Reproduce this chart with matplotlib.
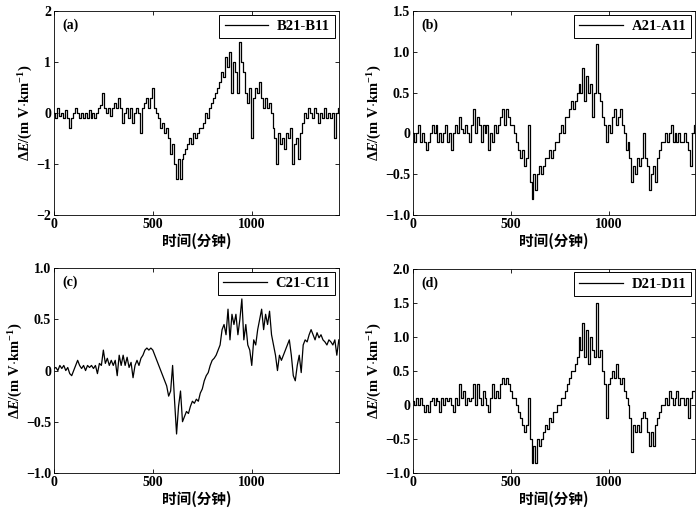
import numpy as np
import matplotlib.pyplot as plt

plt.rcParams['font.family'] = ['Liberation Serif', 'Noto Sans CJK SC']
plt.rcParams['font.weight'] = 'bold'
plt.rcParams['axes.labelweight'] = 'bold'
plt.rcParams['mathtext.fontset'] = 'custom'
plt.rcParams['mathtext.rm'] = 'Liberation Serif:bold'
plt.rcParams['mathtext.it'] = 'Liberation Serif:italic:bold'
plt.rcParams['mathtext.bf'] = 'Liberation Serif:bold'

# time in minutes, read every 10 minutes
minutes = np.arange(0, 1441, 10)

b21_b11 = [
    0.0, -0.1, 0.1, -0.05, 0.0, -0.1, 0.05, -0.1, -0.3, -0.1,
    0.0, 0.1, 0.0, -0.1, 0.0, -0.1, 0.0, -0.1, 0.05, -0.1,
    0.0, -0.1, 0.0, 0.1, 0.15, 0.4, 0.1, 0.0, 0.1, -0.05,
    0.1, 0.2, 0.1, 0.3, 0.1, -0.2, 0.0, 0.1, -0.1, 0.1,
    -0.2, 0.0, 0.1, 0.0, -0.4, 0.1, 0.2, 0.3, 0.1, 0.3,
    0.5, 0.1, 0.0, -0.1, -0.3, -0.2, -0.4, -0.3, -0.5, -0.8,
    -0.6, -1.0, -1.3, -0.9, -1.3, -0.9, -0.8, -0.7, -0.6, -0.5,
    -0.6, -0.4, -0.5, -0.4, -0.3, -0.3, -0.2, 0.0, -0.1, 0.1,
    0.2, 0.3, 0.4, 0.5, 0.6, 0.8, 0.7, 1.1, 0.9, 1.2,
    0.4, 1.0, 0.8, 0.4, 1.4, 1.0, 0.8, 0.4, 0.2, 0.5,
    -0.5, 0.3, 0.5, 0.4, 0.6, 0.3, 0.1, 0.3, 0.1, 0.2,
    0.0, -0.3, -0.5, -1.0, -0.4, -0.6, -0.5, -0.7, -0.4, -0.5,
    -0.3, -1.0, -0.6, -0.5, -0.9, -0.4, -0.2, 0.0, -0.1, 0.1,
    0.0, -0.1, 0.1, 0.0, -0.2, 0.0, -0.1, 0.1, -0.1, 0.0,
    -0.1, 0.0, -0.5, 0.0, 0.1,
]

a21_a11 = [
    0.0, -0.1, 0.0, 0.1, -0.1, 0.0, -0.1, -0.2, -0.1, 0.0,
    0.1, 0.0, 0.1, -0.1, 0.0, -0.1, 0.0, 0.1, -0.1, 0.0,
    -0.2, 0.0, 0.1, 0.0, 0.2, 0.05, 0.0, 0.1, 0.0, -0.1,
    0.1, 0.3, 0.0, 0.2, 0.1, -0.1, 0.1, 0.0, 0.1, -0.2,
    0.0, -0.1, 0.1, 0.0, 0.1, 0.2, 0.3, 0.1, 0.3, 0.2,
    0.1, 0.1, 0.0, -0.1, -0.2, -0.3, -0.2, -0.4, -0.3, 0.1,
    -0.6, -0.8, -0.5, -0.7, -0.5, -0.4, -0.5, -0.4, -0.3, -0.3,
    -0.2, -0.3, -0.2, -0.1, -0.1, 0.0, 0.1, 0.0, 0.2, 0.2,
    0.3, 0.4, 0.3, 0.4, 0.5, 0.6, 0.5, 0.8, 0.4, 0.7,
    0.5, 0.6, 0.2, 0.5, 1.1, 0.5, 0.4, 0.2, 0.1, -0.1,
    0.1, 0.0, 0.2, 0.3, 0.1, 0.2, 0.3, 0.1, 0.0, -0.2,
    -0.1, -0.3, -0.6, -0.4, -0.5, -0.3, -0.4, -0.3, 0.0, -0.3,
    -0.4, -0.7, -0.5, -0.4, -0.6, -0.3, -0.2, -0.1, -0.1, 0.0,
    -0.1, 0.0, 0.1, -0.1, 0.0, -0.1, 0.0, -0.1, -0.1, 0.0,
    -0.1, -0.2, -0.4, 0.0, 0.1,
]

c21_c11 = [
    0.02, 0.03, 0.0, 0.05, 0.02, 0.05, 0.0, 0.03, -0.03, -0.05,
    0.0, 0.05, 0.1, 0.05, 0.02, 0.05, 0.0, 0.05, 0.03, 0.05,
    0.02, 0.05, -0.03, 0.07, 0.05, 0.2, 0.07, 0.12, 0.05, 0.1,
    0.05, 0.1, -0.05, 0.15, 0.05, 0.15, 0.05, 0.13, 0.03, 0.08,
    -0.07, 0.05, 0.1, 0.05, 0.12, 0.15, 0.2, 0.22, 0.2, 0.22,
    0.2, 0.15, 0.1, 0.05, 0.0, -0.05, -0.1, -0.15, -0.25, -0.2,
    0.05, -0.3, -0.62, -0.35, -0.2, -0.5, -0.45, -0.4, -0.42, -0.35,
    -0.3, -0.32, -0.28, -0.3, -0.22, -0.18, -0.1, -0.05, -0.02, 0.05,
    0.1, 0.12, 0.15, 0.2, 0.25, 0.4, 0.45, 0.35, 0.6, 0.3,
    0.55, 0.45, 0.55, 0.35, 0.5, 0.7, 0.3, 0.45, 0.25, 0.2,
    0.05, 0.3, 0.25, 0.4, 0.5, 0.6, 0.4, 0.55, 0.45, 0.58,
    0.35, 0.25, 0.15, 0.0, 0.15, 0.1, 0.15, 0.2, 0.25, 0.3,
    0.15, -0.05, -0.1, 0.05, 0.15, -0.02, 0.25, 0.3, 0.28, 0.35,
    0.4, 0.35, 0.3, 0.37, 0.32, 0.35, 0.3, 0.28, 0.25, 0.3,
    0.28, 0.25, 0.3, 0.15, 0.3,
]

d21_d11 = [
    0.05, 0.0, 0.1, 0.0, 0.1, 0.0, -0.1, 0.0, -0.1, 0.05,
    0.1, 0.0, 0.1, 0.05, -0.1, 0.1, 0.0, 0.1, 0.05, 0.1,
    0.0, -0.1, 0.1, 0.0, 0.3, 0.1, 0.2, 0.0, 0.1, 0.05,
    0.1, 0.3, 0.0, 0.3, 0.1, 0.0, 0.2, 0.1, 0.0, -0.1,
    0.1, 0.3, 0.1, 0.2, 0.1, 0.3, 0.4, 0.3, 0.4, 0.3,
    0.2, 0.1, 0.1, 0.0, -0.1, -0.2, -0.3, -0.4, -0.3, 0.1,
    -0.5, -0.85, -0.6, -0.85, -0.5, -0.6, -0.5, -0.4, -0.3, -0.35,
    -0.2, -0.25, -0.1, -0.1, 0.0, 0.0, 0.1, 0.1, 0.2, 0.3,
    0.4, 0.5, 0.5, 0.6, 0.7, 1.0, 0.8, 1.2, 0.7, 1.1,
    0.6, 1.0, 0.8, 0.7, 1.5, 0.7, 0.8, 0.5, 0.3, -0.2,
    0.3, 0.4, 0.5, 0.4, 0.6, 0.4, 0.3, 0.4, 0.2, 0.1,
    0.0, -0.2, -0.7, -0.3, -0.4, -0.3, -0.4, -0.2, -0.1, -0.2,
    -0.4, -0.6, -0.4, -0.6, -0.3, -0.2, -0.1, 0.0, 0.0, 0.1,
    0.0, 0.2, 0.1, 0.0, 0.1, 0.2, 0.0, 0.1, 0.1, 0.0,
    0.1, -0.2, 0.1, 0.2, 0.2,
]

# tag, legend name, values, y range, y ticks, tick labels, draw style
panels = [
    ('(a)', 'B21-B11', b21_b11, (-2, 2), [-2, -1, 0, 1, 2],
     ['\u22122', '\u22121', '0', '1', '2'], 'steps-mid'),
    ('(b)', 'A21-A11', a21_a11, (-1.0, 1.5), [-1.0, -0.5, 0, 0.5, 1.0, 1.5],
     ['\u22121.0', '\u22120.5', '0', '0.5', '1.0', '1.5'], 'steps-mid'),
    ('(c)', 'C21-C11', c21_c11, (-1.0, 1.0), [-1.0, -0.5, 0, 0.5, 1.0],
     ['\u22121.0', '\u22120.5', '0', '0.5', '1.0'], 'default'),
    ('(d)', 'D21-D11', d21_d11, (-1.0, 2.0), [-1.0, -0.5, 0, 0.5, 1.0, 1.5, 2.0],
     ['\u22121.0', '\u22120.5', '0', '0.5', '1.0', '1.5', '2.0'], 'steps-mid'),
]

boxes = [
    [0.077, 0.578, 0.407, 0.400],
    [0.590, 0.578, 0.403, 0.400],
    [0.077, 0.071, 0.407, 0.402],
    [0.590, 0.071, 0.403, 0.401],
]

fig = plt.figure(figsize=(7.0, 5.09), dpi=100)

for (tag, name, vals, ylim, yt, ytl, ds), box in zip(panels, boxes):
    ax = fig.add_axes(box)
    ax.plot(minutes, vals, color='black', lw=0.9, drawstyle=ds, label=name)
    ax.set_xlim(0, 1440)
    ax.set_ylim(*ylim)
    ax.set_xticks([0, 500, 1000])
    ax.set_yticks(yt)
    ax.set_yticklabels(ytl)
    ax.tick_params(direction='in', top=True, right=True, labelsize=10, length=3, width=0.6, pad=2)
    for lab in ax.get_xticklabels() + ax.get_yticklabels():
        lab.set_fontweight('bold')
    for s in ax.spines.values():
        s.set_linewidth(0.6)
    ax.set_xlabel('时间(分钟)', family=['Noto Sans CJK SC'], fontsize=10.5, fontweight='bold', labelpad=1.5)
    ax.set_ylabel(r'$\Delta E$/(m V$\cdot$km$^{-1}$)', fontsize=10.5, fontweight='bold', labelpad=1)
    ax.text(0.03, 0.93, tag, transform=ax.transAxes, fontsize=10, fontweight='bold',
            va='center', ha='left')
    leg = ax.legend(loc='upper right', fancybox=False, framealpha=1, edgecolor='black',
                    prop={'family': 'Liberation Serif', 'weight': 'bold', 'size': 10.5},
                    borderaxespad=0.25, handlelength=3.0, borderpad=0.35, handletextpad=0.6)
    leg.get_frame().set_linewidth(0.7)

fig.savefig('out.png', dpi=100)
